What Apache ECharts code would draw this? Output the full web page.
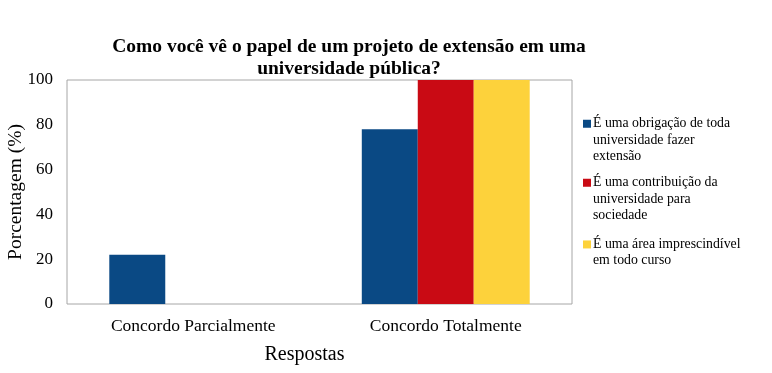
<!DOCTYPE html>
<html><head><meta charset="utf-8">
<script src="https://cdn.jsdelivr.net/npm/echarts@6/dist/echarts.min.js"></script>
<style>html,body{margin:0;padding:0;background:#fff}#c{width:772px;height:373px}</style>
</head><body><div id="c"></div>
<script>
const categories = ['Concordo Parcialmente', 'Concordo Totalmente'];
const seriesNames = ['É uma obrigação de toda\nuniversidade fazer\nextensão', 'É uma contribuição da\nuniversidade para\nsociedade', 'É uma área imprescindível\nem todo curso'];
const obrigacao = [22, 78];
const contribuicao = [0, 100];
const area = [0, 100];
const yTicks = [0, 20, 40, 60, 80, 100];
const colors = ['#0a4984', '#c90a14', '#fdd23b'];
const values = [obrigacao, contribuicao, area];
const font = 'Liberation Serif';
const legendTops = [83, 142, 220];
const LH = 16.3;

const chart = echarts.init(document.getElementById('c'));
const legends = seriesNames.map((n, i) => {
  const lines = n.split('\n').length;
  return {
    data: [n], left: 583, top: legendTops[i], padding: 0, orient: 'vertical',
    itemWidth: 8, itemHeight: 8, itemGap: 0, selectedMode: false,
    icon: 'rect',
    formatter: name => '\n'.repeat(lines - 1) + name,
    textStyle: { fontFamily: font, fontSize: 13.8, lineHeight: LH, color: '#000', padding: [0, 0, 0, -3] }
  };
});
chart.setOption({
  animation: false,
  title: {
    text: 'Como você vê o papel de um projeto de extensão em uma\nuniversidade pública?',
    left: 344, top: 31, textAlign: 'center',
    textStyle: { fontFamily: font, fontSize: 19.5, fontWeight: 'bold', lineHeight: 22, color: '#000' }
  },
  legend: legends,
  grid: { left: 67, right: 200, top: 80, bottom: 69, show: true, borderColor: '#a6a6a6', borderWidth: 1, outerBoundsMode: 'none', containLabel: false },
  xAxis: {
    type: 'category', data: categories,
    name: 'Respostas', nameLocation: 'middle', nameGap: 41, nameMoveOverlap: false,
    nameTextStyle: { fontFamily: font, fontSize: 20, color: '#000', padding: [0, 30, 0, 0] },
    axisLine: { show: false }, axisTick: { show: false },
    axisLabel: { fontFamily: font, fontSize: 17.5, color: '#000', margin: 13 }
  },
  yAxis: {
    type: 'value', min: 0, max: 100, interval: 20,
    name: 'Porcentagem (%)', nameLocation: 'middle', nameGap: 41, nameMoveOverlap: false,
    nameTextStyle: { fontFamily: font, fontSize: 19.5, color: '#000' },
    axisLine: { show: false }, axisTick: { show: false }, splitLine: { show: false },
    axisLabel: { fontFamily: font, fontSize: 17, color: '#000', margin: 14,
      formatter: v => yTicks.includes(v) ? String(v) : '' }
  },
  series: seriesNames.map((n, i) => ({
    name: n, type: 'bar', data: values[i], barGap: 0, barCategoryGap: '33.5%',
    itemStyle: { color: colors[i] }
  }))
});
</script></body></html>
